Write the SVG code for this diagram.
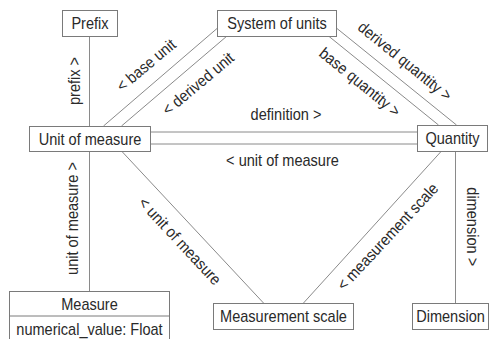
<svg xmlns="http://www.w3.org/2000/svg" width="490" height="339" viewBox="0 0 490 339">
<style>
.box{fill:#fff;stroke:#7a7a7a;stroke-width:1}
.ln{stroke:#8a8a8a;stroke-width:1;fill:none}
text{font-family:"Liberation Sans",Arial,sans-serif;font-size:16px;fill:#2a2a2a;text-anchor:middle}
</style>
<rect width="490" height="339" fill="#fff"/>
<g id="connectors">
<line class="ln" x1="89.5" y1="36" x2="89.5" y2="126"/>
<line class="ln" x1="89.5" y1="151" x2="89.5" y2="291"/>
<line class="ln" x1="103.5" y1="126" x2="217" y2="28.5"/>
<line class="ln" x1="121.5" y1="126" x2="227" y2="36"/>
<line class="ln" x1="337" y1="28.5" x2="456.5" y2="125"/>
<line class="ln" x1="328.5" y1="36" x2="438.5" y2="125"/>
<line class="ln" x1="151" y1="132" x2="417" y2="132"/>
<line class="ln" x1="151" y1="144" x2="417" y2="144"/>
<line class="ln" x1="121.5" y1="151" x2="263.5" y2="303"/>
<line class="ln" x1="441.5" y1="151" x2="303.5" y2="303"/>
<line class="ln" x1="455.5" y1="151" x2="455.5" y2="303"/>
<text transform="translate(74,81) rotate(-90) scale(0.91,1)" dy="0.35em">prefix &gt;</text>
<text transform="translate(72.5,218.5) rotate(-90) scale(0.91,1)" dy="0.35em">unit of measure &gt;</text>
<text transform="translate(146,65) rotate(-40) scale(0.91,1)" dy="0.35em">&lt; base unit</text>
<text transform="translate(198,83.5) rotate(-40) scale(0.91,1)" dy="0.35em">&lt; derived unit</text>
<text transform="translate(405,61) rotate(39) scale(0.91,1)" dy="0.35em">derived quantity &gt;</text>
<text transform="translate(360,82) rotate(39) scale(0.91,1)" dy="0.35em">base quantity &gt;</text>
<text transform="translate(286,120) scale(0.91,1)">definition &gt;</text>
<text transform="translate(282.5,166) scale(0.91,1)">&lt; unit of measure</text>
<text transform="translate(180,241) rotate(47) scale(0.91,1)" dy="0.35em">&lt; unit of measure</text>
<text transform="translate(387.5,236.5) rotate(-47) scale(0.91,1)" dy="0.35em">&lt; measurement scale</text>
<text transform="translate(472.5,226.7) rotate(90) scale(0.91,1)" dy="0.35em">dimension &gt;</text>
</g>
<g id="prefix">
<rect class="box" x="62.5" y="10.5" width="55" height="26"/>
<text transform="translate(90,29) scale(0.91,1)">Prefix</text>
</g>
<g id="system-of-units">
<rect class="box" x="217.5" y="10.5" width="119" height="26"/>
<text transform="translate(277,29) scale(0.91,1)">System of units</text>
</g>
<g id="unit-of-measure">
<rect class="box" x="29.5" y="126.5" width="121" height="25"/>
<text transform="translate(90,144.5) scale(0.91,1)">Unit of measure</text>
</g>
<g id="quantity">
<rect class="box" x="417.5" y="125.5" width="70" height="26"/>
<text transform="translate(452.5,144) scale(0.91,1)">Quantity</text>
</g>
<g id="measure">
<rect class="box" x="9.5" y="291.5" width="160" height="52"/>
<line class="box" x1="9.5" y1="316" x2="169.5" y2="316"/>
<text transform="translate(89.5,309.5) scale(0.91,1)">Measure</text>
<text transform="translate(89.5,334.5) scale(0.91,1)">numerical_value: Float</text>
</g>
<g id="measurement-scale">
<rect class="box" x="213.5" y="303.5" width="140" height="26"/>
<text transform="translate(283.5,322) scale(0.91,1)">Measurement scale</text>
</g>
<g id="dimension">
<rect class="box" x="412.5" y="303.5" width="76" height="26"/>
<text transform="translate(450.5,322) scale(0.91,1)">Dimension</text>
</g>
</svg>
